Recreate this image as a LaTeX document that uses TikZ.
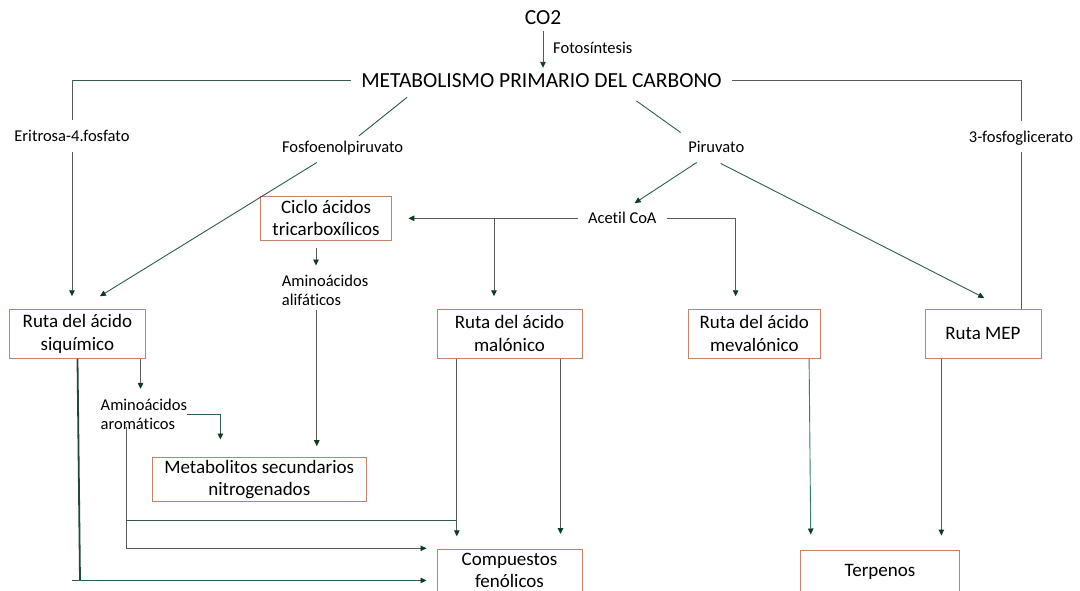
\documentclass[tikz,border=0pt]{standalone}
\usepackage{fontspec}
\setmainfont{Carlito}[Ligatures=NoCommon]
\usetikzlibrary{arrows.meta,calc}
\definecolor{gline}{HTML}{2F5E4E}
\definecolor{kline}{HTML}{5A5A5A}
\definecolor{tipc}{HTML}{0E3B22}
\definecolor{boxc}{HTML}{C08468}
\definecolor{tealc}{HTML}{3A7A6A}
\definecolor{darkg}{HTML}{1F4A38}
\begin{document}
\begin{tikzpicture}[x=1pt,y=-1pt,
  big/.style={font=\fontsize{21.5}{25}\selectfont, inner sep=0pt, text height=14pt, text depth=0pt},
  lbl/.style={font=\fontsize{16.5}{19.3}\selectfont, inner sep=0pt, text height=11pt, text depth=0pt},
  lbltwo/.style={font=\fontsize{16.5}{19.3}\selectfont, inner sep=0pt, align=left, anchor=west},
  box/.style={draw=boxc, line width=1pt, font=\fontsize{19}{22.7}\selectfont, align=center, inner sep=0pt},
  gl/.style={draw=gline, line width=0.9pt},
  kl/.style={draw=kline, line width=0.9pt},
  tip/.style={-{Triangle[length=6pt,width=5.5pt,color=tipc]}}
]
\fill[white] (0,0) rectangle (1080,590);
\useasboundingbox (0,0) rectangle (1080,590);

% text nodes
\node[big, inner ysep=7pt] (co2) at (543,17) {CO2};
\node[big, inner xsep=10pt, inner ysep=5pt] (metab) at (541.5,80) {METABOLISMO PRIMARIO DEL CARBONO};
\node[lbl, anchor=west] (foto) at (553,48.3) {Fotosíntesis};
\node[lbl, inner ysep=10pt] (erit) at (72,136) {Eritrosa-4.fosfato};
\node[lbl, inner ysep=10pt] (fosg) at (1021,136.7) {3-fosfoglicerato};
\node[lbl] (fosfo) at (342.6,146.7) {Fosfoenolpiruvato};
\node[lbl] (piru) at (716.3,146.7) {Piruvato};
\node[lbl, inner xsep=10pt] (acetil) at (622.3,218.3) {Acetil CoA};
\node[lbltwo] (alif) at (281.7,290.2) {Aminoácidos\\alifáticos};
\node[lbltwo] (arom) at (100.5,414.2) {Aminoácidos\\aromáticos};

% boxes
\node[box, minimum width=130.8pt, minimum height=44pt] (ciclo) at (326.1,218) {Ciclo ácidos\\tricarboxílicos};
\node[box, minimum width=136.7pt, minimum height=49.3pt] (siq) at (77.4,333.7) {Ruta del ácido\\siquímico};
\node[box, minimum width=145pt, minimum height=49.3pt] (mal) at (509.5,333.7) {Ruta del ácido\\malónico};
\node[box, minimum width=132.6pt, minimum height=49.3pt] (mev) at (754.3,333.7) {Ruta del ácido\\mevalónico};
\node[box, minimum width=116pt, minimum height=49.3pt] (mep) at (983,333.7) {Ruta MEP};
\node[box, minimum width=213.5pt, minimum height=44.4pt] (metsec) at (259.3,479.5) {Metabolitos secundarios\\nitrogenados};
\node[box, minimum width=145pt, minimum height=42pt] (comp) at (509.5,570.5) {Compuestos\\fenólicos};
\node[box, minimum width=158.7pt, minimum height=44pt] (terp) at (880,572) {Terpenos};

% connectors
\draw[kl,tip] (co2.south) -- (co2.south |- metab.north);
\draw[gl] (metab.west) -- (metab.west -| erit.north);
\draw[kl] (metab.west -| erit.north) -- (erit.north);
\draw[kl,tip] (erit.south) -- ($(erit.south |- siq.north)+(0,-12.3)$);
\draw[gl] ($(metab.south)+(-134.5,5.2)$) -- ($(fosfo.north)+(16.4,-5.2)$);
\draw[gl,tip] ($(fosfo.south)+(-25.8,10.1)$) -- ($(siq.north)+(22.5,-12.3)$);
\draw[gl] ($(metab.south)+(94.9,8.7)$) -- ($(piru.north west)+(-7.6,-8.5)$);
\draw[gl,tip] ($(piru.south)+(-19.6,10.1)$) -- ($(acetil.north)+(12.4,-9.5)$);
\draw[gl,tip] ($(piru.south)+(4.5,11.1)$) -- ($(mep.north)+(1.2,-10.7)$);
\draw[kl] (metab.east) -| (fosg.north);
\draw[kl] (fosg.south) -- (fosg.south |- mep.north);
\draw[kl,tip] (acetil.west) -- ($(acetil.west -| ciclo.east)+(16.4,0)$);
\draw[kl,tip] ($(acetil.west -| mal.north)+(-15.5,0)$) -- ($(mal.north)+(-15.5,-12.3)$);
\draw[kl,tip] (acetil.east) -| ($(mev.north)+(-18.7,-12.3)$);
\draw[kl,tip] ($(ciclo.south)+(-10.1,7.3)$) -- ($(ciclo.south)+(-10.1,25)$);
\draw[kl,tip] ($(alif.south west)+(35.1,4.4)$) -- ($(metsec.north)+(57.5,-10.6)$);
\draw[draw=darkg, line width=1.8pt] ($(siq.south)+(0.1,0)$) -- ($(siq.south)+(2.6,221.6)$);
\coordinate (c15) at ($(siq.south)+(-5.4,221.6)$);
\draw[gl,tip] (c15) -- ($(c15 -| comp.west)+(-10,0)$);
\draw[kl,tip] ($(siq.south east)+(-5.7,0)$) -- ++(0,30);
\draw[gl,tip] (arom.east) -| ($(metsec.north)+(-38.9,-17.3)$);
\coordinate (c18) at ($(arom.south west)+(25.9,-2.5)$);
\draw[kl,tip] (c18) |- ($(comp.north west)+(-10,-0.7)$);
\coordinate (c19) at ($(mal.south west)+(20.3,0)$);
\draw[kl,tip] (c19) -- ($(c19 |- comp.north)+(0,-12.7)$);
\coordinate (c19b) at ($(c18)+(0,93.4)$);
\draw[gl] (c19b) -- (c19b -| c19);
\draw[kl,tip] ($(mal.south east)+(-22,0)$) -- ($(comp.north east)+(-22,-15)$);
\draw[draw=tealc, line width=0.9pt, tip] ($(mev.south east)+(-12,0)$) -- ($(terp.north west)+(10.6,-15)$);
\draw[kl,tip] ($(mep.south west)+(16.9,0)$) -- ($(mep.south west)+(16.9,176.7)$);
\end{tikzpicture}
\end{document}
